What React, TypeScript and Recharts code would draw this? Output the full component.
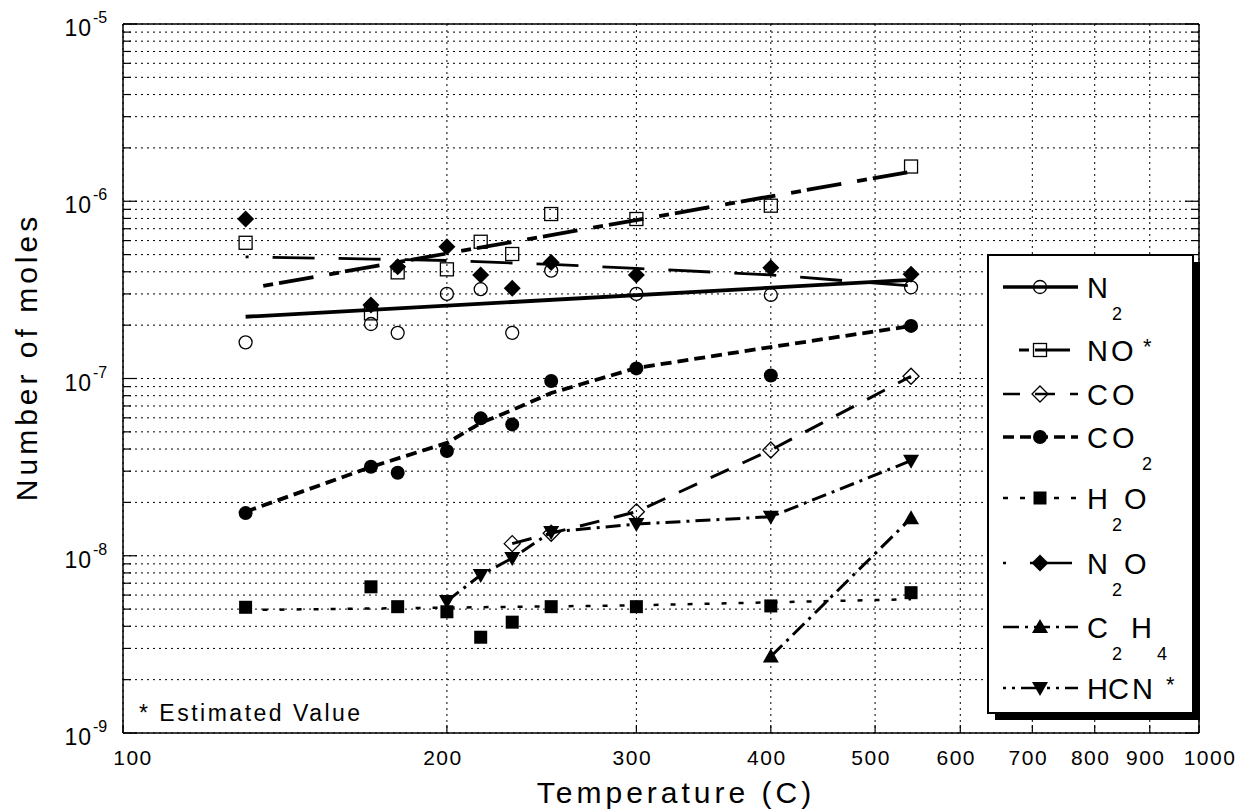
import React from 'react';
import { ComposedChart, Line, XAxis, YAxis, CartesianGrid } from 'recharts';

// ---------- data ----------
const temps = [130, 170, 180, 200, 215, 230, 250, 300, 400, 540];
const n2Moles = [1.6e-7, 2.03e-7, 1.81e-7, 3.0e-7, 3.19e-7, 1.81e-7, 4.06e-7, 3.0e-7, 2.96e-7, 3.27e-7];
const noMoles = [5.83e-7, 2.33e-7, 3.97e-7, 4.13e-7, 5.91e-7, 5.04e-7, 8.47e-7, 7.94e-7, 9.44e-7, 1.57e-6];
const n2oMoles = [7.94e-7, 2.6e-7, 4.27e-7, 5.54e-7, 3.84e-7, 3.23e-7, 4.52e-7, 3.84e-7, 4.22e-7, 3.87e-7];
const co2Moles = [1.74e-8, 3.18e-8, 2.94e-8, 3.9e-8, 5.96e-8, 5.51e-8, 9.68e-8, 1.14e-7, 1.04e-7, 1.98e-7];
const h2oMoles = [5.12e-9, 6.68e-9, 5.16e-9, 4.83e-9, 3.47e-9, 4.22e-9, 5.16e-9, 5.16e-9, 5.21e-9, 6.19e-9];

const coTemps = [230, 250, 300, 400, 540];
const coMoles = [1.17e-8, 1.34e-8, 1.77e-8, 3.95e-8, 1.03e-7];
const hcnTemps = [200, 215, 230, 250, 300, 400, 540];
const hcnMoles = [5.55e-9, 7.78e-9, 9.7e-9, 1.36e-8, 1.51e-8, 1.66e-8, 3.44e-8];
const c2h4Temps = [400, 540];
const c2h4Moles = [2.7e-9, 1.63e-8];

// fitted curves
const n2FitTemps = [130, 540];
const n2FitMoles = [2.23e-7, 3.6e-7];
const noFitTemps = [135, 540];
const noFitMoles = [3.33e-7, 1.47e-6];
const n2oFitTemps = [130, 170, 200, 250, 300, 400, 540];
const n2oFitMoles = [4.86e-7, 4.72e-7, 4.63e-7, 4.4e-7, 4.18e-7, 3.84e-7, 3.33e-7];
const co2FitTemps = [130, 170, 200, 215, 230, 250, 300, 400, 540];
const co2FitMoles = [1.77e-8, 3.17e-8, 4.33e-8, 5.61e-8, 6.64e-8, 8.28e-8, 1.146e-7, 1.505e-7, 1.978e-7];
const h2oFitTemps = [130, 300, 540];
const h2oFitMoles = [4.94e-9, 5.25e-9, 5.68e-9];

const xTicks = [100, 200, 300, 400, 500, 600, 700, 800, 900, 1000];
const yDecades = [-9, -8, -7, -6];
const yMantissas = [1, 2, 3, 4, 5, 6, 7, 8, 9];
const yTicks = [...yDecades.flatMap((d) => yMantissas.map((m) => Number(`${m}e${d}`))), 1e-5];

const pts = (xs: number[], ys: number[]) => xs.map((x, i) => ({ x, y: ys[i] }));

const FONT = '"Liberation Sans", Arial, Helvetica, sans-serif';
const INK = '#000';

// ---------- markers ----------
function Marker({ shape, cx, cy }: { shape: string; cx: number; cy: number }) {
  const sw = 1.3;
  switch (shape) {
    case 'circleOpen':
      return <circle cx={cx} cy={cy} r={6.5} fill="none" stroke={INK} strokeWidth={sw} />;
    case 'squareOpen':
      return <rect x={cx - 6.5} y={cy - 6.5} width={13} height={13} fill="none" stroke={INK} strokeWidth={sw} />;
    case 'diamondOpen':
      return (
        <polygon
          points={`${cx},${cy - 8} ${cx + 8},${cy} ${cx},${cy + 8} ${cx - 8},${cy}`}
          fill="none"
          stroke={INK}
          strokeWidth={sw}
        />
      );
    case 'circleFilled':
      return <circle cx={cx} cy={cy} r={7} fill={INK} />;
    case 'squareFilled':
      return <rect x={cx - 6.5} y={cy - 6.5} width={13} height={13} fill={INK} />;
    case 'diamondFilled':
      return <polygon points={`${cx},${cy - 8.5} ${cx + 8.5},${cy} ${cx},${cy + 8.5} ${cx - 8.5},${cy}`} fill={INK} />;
    case 'triUp':
      return <polygon points={`${cx},${cy - 8} ${cx + 8},${cy + 6} ${cx - 8},${cy + 6}`} fill={INK} />;
    case 'triDown':
      return <polygon points={`${cx},${cy + 8} ${cx + 8},${cy - 6} ${cx - 8},${cy - 6}`} fill={INK} />;
    default:
      return null;
  }
}

const dotOf = (shape: string) => (p: any) => {
  if (p == null || p.cx == null || p.cy == null) return <g key={`${shape}-e-${p?.index}`} />;
  return <Marker key={`${shape}-${p.index}`} shape={shape} cx={p.cx} cy={p.cy} />;
};

// ---------- ticks ----------
function XTick(props: any) {
  const { x, y, payload } = props;
  const v = payload.value;
  let off = -4;
  if (v === 100) off = 10;
  if (v === 1000) off = 11;
  return (
    <g>
      <line x1={x} x2={x} y1={y} y2={y - 8} stroke={INK} strokeWidth={1.2} />
      <text x={x + off} y={y + 32} textAnchor="middle" fontSize={21} fontFamily={FONT} fill={INK} letterSpacing={1.5}>
        {v}
      </text>
    </g>
  );
}

const isDecade = (v: number) => Math.abs(Math.log10(v) - Math.round(Math.log10(v))) < 1e-6;

function YTick(props: any) {
  const { x, y, payload } = props;
  const v = payload.value;
  const dec = isDecade(v);
  const exp = Math.round(Math.log10(v));
  return (
    <g>
      <line x1={x} x2={x + (dec ? 14 : 8)} y1={y} y2={y} stroke={INK} strokeWidth={1.2} />
      {dec && (
        <g fontFamily={FONT} fill={INK}>
          <text x={x - 31} y={y + 12} textAnchor="end" fontSize={23} letterSpacing={1}>
            10
          </text>
          <text x={x - 30} y={y - 1} textAnchor="start" fontSize={16}>
            {`${exp}`}
          </text>
        </g>
      )}
    </g>
  );
}

function YTickRight(props: any) {
  const { x, y, payload } = props;
  const dec = isDecade(payload.value);
  return <line x1={x} x2={x - (dec ? 14 : 8)} y1={y} y2={y} stroke={INK} strokeWidth={1.2} />;
}

// ---------- legend ----------
type Piece = [string, number, 'n' | 's' | 'a'];
const legendRows: { y: number; shape: string; dash: string; offset: number; width: number; pieces: Piece[] }[] = [
  { y: 287, shape: 'circleOpen', dash: '', offset: 0, width: 3.5, pieces: [['N', 1087, 'n'], ['2', 1112, 's']] },
  { y: 350, shape: 'squareOpen', dash: '35 16 10 6', offset: 35, width: 3, pieces: [['N', 1087, 'n'], ['O', 1111, 'n'], ['*', 1143, 'a']] },
  { y: 394, shape: 'diamondOpen', dash: '20 15', offset: 3, width: 2.5, pieces: [['C', 1087, 'n'], ['O', 1112, 'n']] },
  { y: 437, shape: 'circleFilled', dash: '11 6', offset: 0, width: 3.5, pieces: [['C', 1087, 'n'], ['O', 1112, 'n'], ['2', 1142, 's']] },
  { y: 498, shape: 'squareFilled', dash: '5 12', offset: 0, width: 2.5, pieces: [['H', 1087, 'n'], ['2', 1112, 's'], ['O', 1124, 'n']] },
  { y: 563, shape: 'diamondFilled', dash: '42 24', offset: 39, width: 2.5, pieces: [['N', 1087, 'n'], ['2', 1112, 's'], ['O', 1124, 'n']] },
  { y: 627, shape: 'triUp', dash: '16 6 3 6', offset: 0, width: 2.5, pieces: [['C', 1087, 'n'], ['2', 1112, 's'], ['H', 1131, 'n'], ['4', 1157, 's']] },
  { y: 688, shape: 'triDown', dash: '3 6 3 6 20 6', offset: 0, width: 2.5, pieces: [['H', 1087, 'n'], ['C', 1108, 'n'], ['N', 1132, 'n'], ['*', 1166, 'a']] },
];

function Overlay() {
  return (
    <svg width={1244} height={809} style={{ position: 'absolute', left: 0, top: 0, pointerEvents: 'none' }}>
      {/* axis titles */}
      <text
        transform="rotate(-90)"
        x={-357}
        y={37}
        textAnchor="middle"
        fontSize={30}
        fontFamily={FONT}
        letterSpacing={4}
        fill={INK}
      >
        Number of moles
      </text>
      <text x={676} y={803} textAnchor="middle" fontSize={30} fontFamily={FONT} letterSpacing={4} fill={INK}>
        Temperature (C)
      </text>
      <text x={139} y={721} fontSize={23} fontFamily={FONT} letterSpacing={2.5} fill={INK}>
        * Estimated Value
      </text>

      {/* legend */}
      <rect x={995} y={262} width={205} height={458} fill={INK} />
      <rect x={988} y={255} width={205} height={458} fill="#fff" stroke={INK} strokeWidth={2} />
      {legendRows.map((r, i) => (
        <g key={i}>
          <line
            x1={1003}
            x2={1078}
            y1={r.y}
            y2={r.y}
            stroke={INK}
            strokeWidth={r.width}
            strokeDasharray={r.dash || undefined}
            strokeDashoffset={r.offset}
          />
          <Marker shape={r.shape} cx={1040} cy={r.y} />
          {r.pieces.map(([t, px, kind], j) => (
            <text
              key={j}
              x={px}
              y={kind === 's' ? r.y + 33 : kind === 'a' ? r.y + 4 : r.y + 11}
              fontSize={kind === 's' ? 18 : kind === 'a' ? 22 : 29}
              fontFamily={FONT}
              fill={INK}
            >
              {t}
            </text>
          ))}
        </g>
      ))}
    </svg>
  );
}

// ---------- chart ----------
export default function App() {
  const noLeg = 'none' as const;
  return (
    <div style={{ position: 'absolute', left: 0, top: 0, width: 1244, height: 809, background: '#fff' }}>
      <ComposedChart width={1244} height={809} margin={{ top: 23, right: 44, bottom: 0, left: 0 }} style={{ fontFamily: FONT }}>
        <CartesianGrid stroke={INK} strokeWidth={1} strokeDasharray="2 4" />
        <XAxis
          dataKey="x"
          type="number"
          scale="log"
          domain={[100, 1000]}
          ticks={xTicks}
          interval={0}
          allowDataOverflow
          height={76}
          tickSize={0}
          tickMargin={0}
          tickLine={false}
          tick={<XTick />}
          axisLine={{ stroke: INK, strokeWidth: 1.5 }}
        />
        <XAxis
          xAxisId="top"
          orientation="top"
          dataKey="x"
          type="number"
          scale="log"
          domain={[100, 1000]}
          ticks={xTicks}
          allowDataOverflow
          height={1}
          tick={false}
          tickLine={false}
          axisLine={{ stroke: INK, strokeWidth: 1.5 }}
        />
        <YAxis
          type="number"
          scale="log"
          domain={[1e-9, 1e-5]}
          ticks={yTicks}
          interval={0}
          allowDataOverflow
          width={123}
          tickSize={0}
          tickMargin={0}
          tickLine={false}
          tick={<YTick />}
          axisLine={{ stroke: INK, strokeWidth: 1.5 }}
        />
        <YAxis
          yAxisId="right"
          orientation="right"
          type="number"
          scale="log"
          domain={[1e-9, 1e-5]}
          ticks={yTicks}
          interval={0}
          allowDataOverflow
          width={1}
          tickSize={0}
          tickMargin={0}
          tickLine={false}
          tick={<YTickRight />}
          axisLine={{ stroke: INK, strokeWidth: 1.5 }}
        />

        {/* fitted curves */}
        <Line data={pts(n2FitTemps, n2FitMoles)} dataKey="y" stroke={INK} strokeWidth={3.8} dot={false} activeDot={false} isAnimationActive={false} legendType={noLeg} />
        <Line data={pts(noFitTemps, noFitMoles)} dataKey="y" stroke={INK} strokeWidth={3.8} strokeDasharray="35 16 10 6" strokeDashoffset={51} dot={false} activeDot={false} isAnimationActive={false} legendType={noLeg} />
        <Line data={pts(n2oFitTemps, n2oFitMoles)} dataKey="y" stroke={INK} strokeWidth={2.8} strokeDasharray="42 24" strokeDashoffset={39} dot={false} activeDot={false} isAnimationActive={false} legendType={noLeg} />
        <Line data={pts(co2FitTemps, co2FitMoles)} dataKey="y" stroke={INK} strokeWidth={3.8} strokeDasharray="11 6" dot={false} activeDot={false} isAnimationActive={false} legendType={noLeg} />
        <Line data={pts(h2oFitTemps, h2oFitMoles)} dataKey="y" stroke={INK} strokeWidth={2.5} strokeDasharray="5 12" dot={false} activeDot={false} isAnimationActive={false} legendType={noLeg} />

        {/* connected series */}
        <Line data={pts(coTemps, coMoles)} dataKey="y" stroke={INK} strokeWidth={3} strokeDasharray="20 15" dot={dotOf('diamondOpen')} activeDot={false} isAnimationActive={false} legendType={noLeg} />
        <Line data={pts(c2h4Temps, c2h4Moles)} dataKey="y" stroke={INK} strokeWidth={3} strokeDasharray="16 6 3 6" dot={dotOf('triUp')} activeDot={false} isAnimationActive={false} legendType={noLeg} />
        <Line data={pts(hcnTemps, hcnMoles)} dataKey="y" stroke={INK} strokeWidth={3} strokeDasharray="15 6 3 6" dot={dotOf('triDown')} activeDot={false} isAnimationActive={false} legendType={noLeg} />

        {/* measured points */}
        <Line data={pts(temps, n2Moles)} dataKey="y" stroke="none" dot={dotOf('circleOpen')} activeDot={false} isAnimationActive={false} legendType={noLeg} />
        <Line data={pts(temps, noMoles)} dataKey="y" stroke="none" dot={dotOf('squareOpen')} activeDot={false} isAnimationActive={false} legendType={noLeg} />
        <Line data={pts(temps, co2Moles)} dataKey="y" stroke="none" dot={dotOf('circleFilled')} activeDot={false} isAnimationActive={false} legendType={noLeg} />
        <Line data={pts(temps, h2oMoles)} dataKey="y" stroke="none" dot={dotOf('squareFilled')} activeDot={false} isAnimationActive={false} legendType={noLeg} />
        <Line data={pts(temps, n2oMoles)} dataKey="y" stroke="none" dot={dotOf('diamondFilled')} activeDot={false} isAnimationActive={false} legendType={noLeg} />
      </ComposedChart>
      <Overlay />
    </div>
  );
}
